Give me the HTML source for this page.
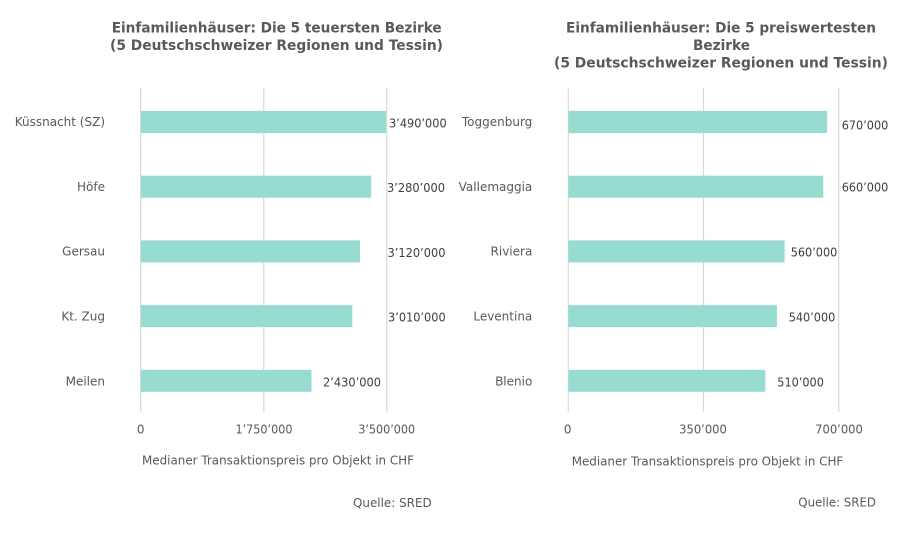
<!DOCTYPE html>
<html>
<head>
<meta charset="utf-8">
<style>
html,body{margin:0;padding:0;background:#fff;}
svg{display:block;}
text{font-family:"DejaVu Sans","Liberation Sans",sans-serif;}
.t{font-weight:bold;font-size:14px;fill:#595959;}
.c{font-size:12px;fill:#595959;}
.v{font-size:12px;fill:#404040;}
.g{stroke:#d9d9d9;stroke-width:1.2;}
.b{fill:#96dcd1;}
</style>
</head>
<body>
<svg width="900" height="537" viewBox="0 0 900 537" xmlns="http://www.w3.org/2000/svg">
<rect width="900" height="537" fill="#fff"/>

<!-- LEFT CHART -->
<text class="t" x="111.7" y="32.5" textLength="330" lengthAdjust="spacingAndGlyphs">Einfamilienhäuser: Die 5 teuersten Bezirke</text>
<text class="t" x="110" y="50" textLength="333" lengthAdjust="spacingAndGlyphs">(5 Deutschschweizer Regionen und Tessin)</text>

<line class="g" x1="140.7" y1="88" x2="140.7" y2="412"/>
<line class="g" x1="263.8" y1="88" x2="263.8" y2="412"/>
<line class="g" x1="386.7" y1="88" x2="386.7" y2="412"/>

<rect class="b" x="140.7" y="111" width="245.3" height="22"/>
<rect class="b" x="140.7" y="175.7" width="230.5" height="22"/>
<rect class="b" x="140.7" y="240.4" width="219.3" height="22"/>
<rect class="b" x="140.7" y="305.1" width="211.6" height="22"/>
<rect class="b" x="140.7" y="369.8" width="170.8" height="22"/>

<text class="c" x="105" y="126" text-anchor="end">Küssnacht (SZ)</text>
<text class="c" x="105" y="190.9" text-anchor="end">Höfe</text>
<text class="c" x="105" y="255.6" text-anchor="end">Gersau</text>
<text class="c" x="105" y="320.4" text-anchor="end">Kt. Zug</text>
<text class="c" x="105" y="385.3" text-anchor="end">Meilen</text>

<text class="v" x="389" y="127.7" textLength="57.7" lengthAdjust="spacingAndGlyphs">3’490’000</text>
<text class="v" x="387" y="192.2" textLength="58" lengthAdjust="spacingAndGlyphs">3’280’000</text>
<text class="v" x="387.5" y="256.9" textLength="58" lengthAdjust="spacingAndGlyphs">3’120’000</text>
<text class="v" x="388" y="321.3" textLength="57.7" lengthAdjust="spacingAndGlyphs">3’010’000</text>
<text class="v" x="323" y="386.5" textLength="58" lengthAdjust="spacingAndGlyphs">2’430’000</text>

<text class="c" x="140.7" y="433.7" text-anchor="middle">0</text>
<text class="c" x="264" y="433.7" text-anchor="middle" textLength="57" lengthAdjust="spacingAndGlyphs">1’750’000</text>
<text class="c" x="386.7" y="433.7" text-anchor="middle" textLength="57" lengthAdjust="spacingAndGlyphs">3’500’000</text>

<text class="c" x="142" y="464.6" textLength="272" lengthAdjust="spacingAndGlyphs">Medianer Transaktionspreis pro Objekt in CHF</text>
<text class="c" x="353" y="507" textLength="78.7" lengthAdjust="spacingAndGlyphs">Quelle: SRED</text>

<!-- RIGHT CHART -->
<text class="t" x="566" y="32.5" textLength="310" lengthAdjust="spacingAndGlyphs">Einfamilienhäuser: Die 5 preiswertesten</text>
<text class="t" x="693" y="50" textLength="57" lengthAdjust="spacingAndGlyphs">Bezirke</text>
<text class="t" x="554" y="67.5" textLength="334" lengthAdjust="spacingAndGlyphs">(5 Deutschschweizer Regionen und Tessin)</text>

<line class="g" x1="568.3" y1="88" x2="568.3" y2="412"/>
<line class="g" x1="703.5" y1="88" x2="703.5" y2="412"/>
<line class="g" x1="838.7" y1="88" x2="838.7" y2="412"/>

<rect class="b" x="568.3" y="111" width="258.8" height="22"/>
<rect class="b" x="568.3" y="175.7" width="255" height="22"/>
<rect class="b" x="568.3" y="240.4" width="216.3" height="22"/>
<rect class="b" x="568.3" y="305.1" width="208.6" height="22"/>
<rect class="b" x="568.3" y="369.8" width="197" height="22"/>

<text class="c" x="532.3" y="126" text-anchor="end">Toggenburg</text>
<text class="c" x="532.3" y="190.9" text-anchor="end">Vallemaggia</text>
<text class="c" x="532.3" y="255.6" text-anchor="end">Riviera</text>
<text class="c" x="532.3" y="320.4" text-anchor="end">Leventina</text>
<text class="c" x="532.3" y="385.3" text-anchor="end">Blenio</text>

<text class="v" x="841.7" y="129.4" textLength="46.6" lengthAdjust="spacingAndGlyphs">670’000</text>
<text class="v" x="841.7" y="191.4" textLength="46.6" lengthAdjust="spacingAndGlyphs">660’000</text>
<text class="v" x="790.7" y="256.7" textLength="46.6" lengthAdjust="spacingAndGlyphs">560’000</text>
<text class="v" x="788.7" y="321.4" textLength="46.6" lengthAdjust="spacingAndGlyphs">540’000</text>
<text class="v" x="777.3" y="386.4" textLength="46.6" lengthAdjust="spacingAndGlyphs">510’000</text>

<text class="c" x="567.7" y="433.7" text-anchor="middle">0</text>
<text class="c" x="703" y="433.7" text-anchor="middle" textLength="47.7" lengthAdjust="spacingAndGlyphs">350’000</text>
<text class="c" x="839" y="433.7" text-anchor="middle" textLength="47.7" lengthAdjust="spacingAndGlyphs">700’000</text>

<text class="c" x="571.7" y="465.4" textLength="271.6" lengthAdjust="spacingAndGlyphs">Medianer Transaktionspreis pro Objekt in CHF</text>
<text class="c" x="798.3" y="506.6" textLength="77.7" lengthAdjust="spacingAndGlyphs">Quelle: SRED</text>
</svg>
</body>
</html>
